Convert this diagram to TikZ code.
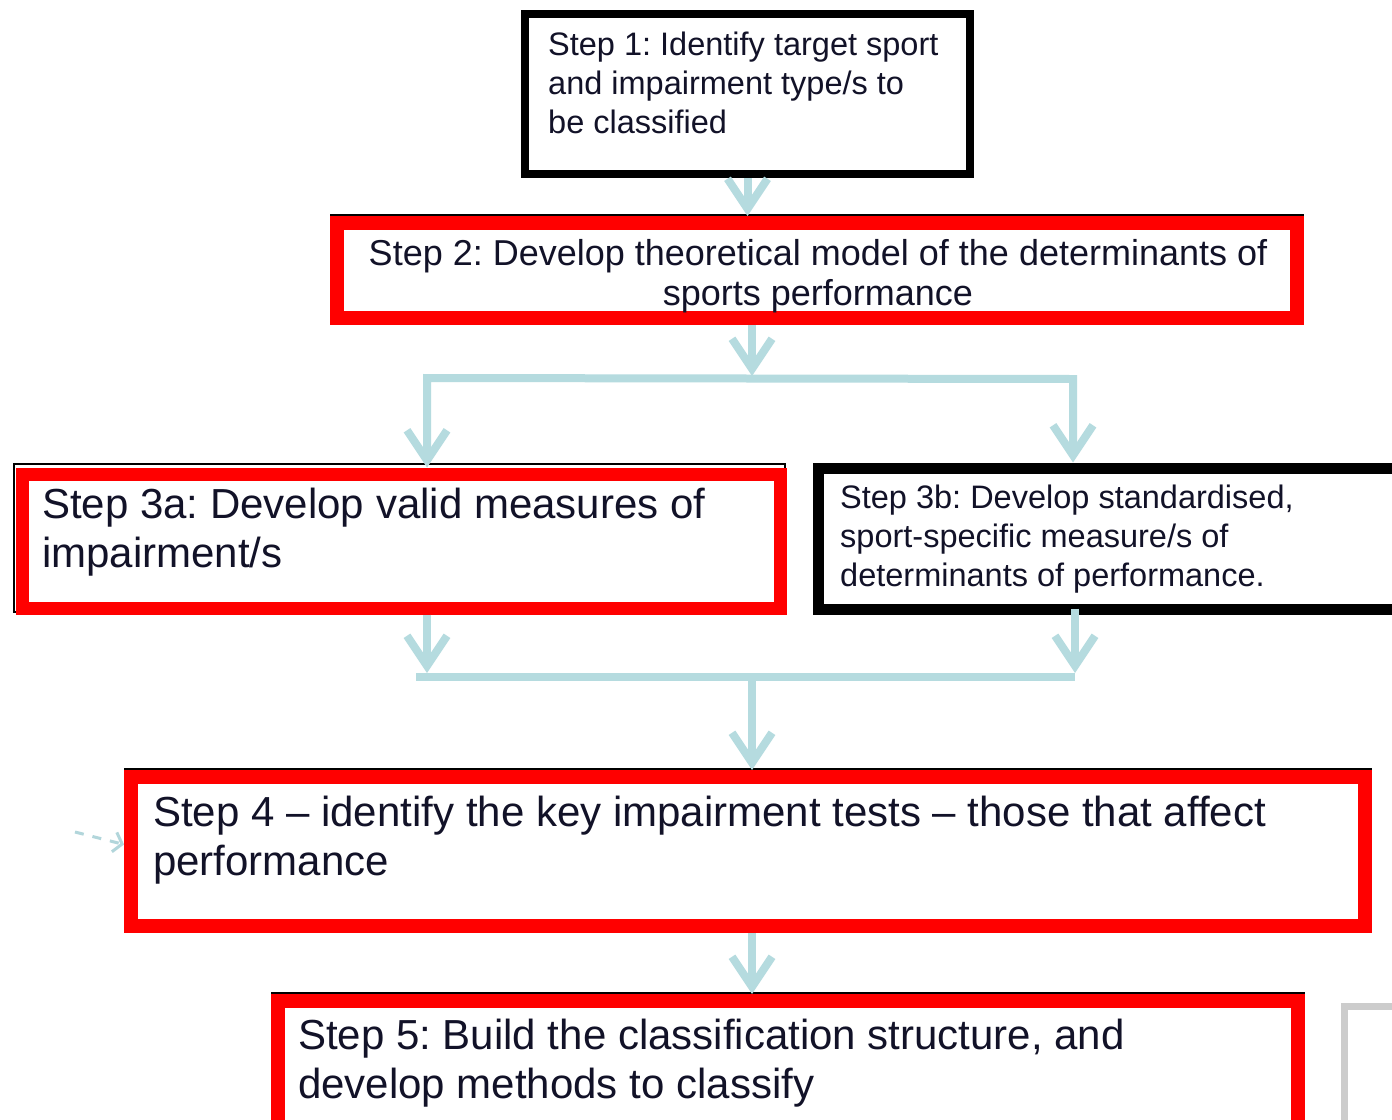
\documentclass[tikz,border=0pt]{standalone}
\usepackage{fontspec}
\setmainfont{Liberation Sans}
\frenchspacing
\usetikzlibrary{arrows.meta}
\definecolor{flowblue}{RGB}{181,219,223}
\definecolor{strayblue}{RGB}{178,214,219}
\definecolor{boxred}{RGB}{255,0,0}
\definecolor{framegray}{RGB}{204,204,204}
\definecolor{inktext}{RGB}{18,18,40}
\begin{document}
\begin{tikzpicture}[x=1pt,y=-1pt,
  blackbox/.style={draw=black, line width=#1, inner sep=0pt},
  redbox/.style={draw=boxred, line width=14pt, inner sep=0pt},
  edgeline/.style={draw=black, line width=2pt, inner sep=0pt},
  flowtip/.tip={Straight Barb[length=30pt,width=40pt]},
  flow/.style={draw=flowblue, line width=8pt, -flowtip},
  flowplain/.style={draw=flowblue, line width=8pt},
  stray/.style={draw=strayblue, line width=3pt, dash pattern=on 9pt off 9pt,
    -{Straight Barb[length=8pt,width=20pt]}},
  label/.style={text=inktext, inner sep=0pt, align=left},
  smalltxt/.style={label, font=\fontsize{32.5}{39}\selectfont},
  midtxt/.style={label, font=\fontsize{36}{40}\selectfont},
  bigtxt/.style={label, font=\fontsize{42}{49}\selectfont}]
\useasboundingbox (0,0) rectangle (1392,1119);
\fill[white] (0,0) rectangle (1392,1119);

% step boxes (the thin black rectangles peek out along the red frames' top edges)
\node[blackbox=8pt, minimum width=445pt, minimum height=160pt] (s1) at (747.5,94) {};

\node[edgeline, minimum width=972pt, minimum height=102pt] (s2e) at (817,266) {};
\node[redbox, minimum width=960pt, minimum height=95pt] (s2) at (817,270.5) {};

\node[edgeline, minimum width=771pt, minimum height=148pt] (s3ae) at (399.5,538) {};
\node[redbox, line width=13pt, minimum width=758pt, minimum height=134pt] (s3a) at (401,541) {};

\node[blackbox=11pt, minimum width=582pt, minimum height=141pt] (s3b) at (1109,538.5) {};

\node[edgeline, minimum width=1246pt, minimum height=157.5pt] (s4e) at (748,847.25) {};
\node[redbox, minimum width=1234pt, minimum height=149pt] (s4) at (748,851.5) {};

\node[edgeline, minimum width=1032pt, minimum height=142.5pt] (s5e) at (788,1063.75) {};
\node[redbox, minimum width=1020pt, minimum height=134pt] (s5) at (788,1068) {};

\node[draw=framegray, line width=7pt, inner sep=0pt, minimum width=80pt, minimum height=140pt] (side) at (1384,1076) {};

% connector junctions
\coordinate (j1) at (752,376);
\coordinate (ja) at (427,378);
\coordinate (jb) at (1073,379);
\coordinate (ma) at (427,673);
\coordinate (mb) at (1075,673);
\coordinate (hl) at (416,677);
\coordinate (hr) at (1075,677);
\coordinate (mc) at (752,677);
\coordinate (strayfrom) at (75,832);

% connectors
\draw[flow] (s1.south) -- (s1.south |- s2.north);
\draw[flow] (s2.south -| j1) -- (j1);
\draw[flowplain, flowtip-flowtip]
  (ja |- s3a.north) -- (ja) -- (jb) -- (jb |- s3b.north);
\draw[flow] (s3a.south -| ma) -- (ma);
\draw[flow] ([yshift=6pt]s3b.south -| mb) -- (mb);
\draw[flowplain] (hl) -- (hr);
\draw[flow] (mc) -- (mc |- s4.north);
\draw[flow] (s4.south -| mc) -- (mc |- s5.north);
\draw[stray] (strayfrom) -- ([yshift=7pt]s4.west);

% step texts (anchored at the baseline of their last line)
\node[smalltxt, anchor=base west] (t1) at (548,133)
  {Step 1: Identify target sport\\and impairment type/s to\\be classified};
\node[midtxt, anchor=base, align=center] (t2) at (818,305)
  {Step 2: Develop theoretical model of the determinants of\\sports performance};
\node[bigtxt, anchor=base west] (t3a) at (42,567)
  {Step 3a: Develop valid measures of\\impairment/s};
\node[smalltxt, anchor=base west] (t3b) at (840,586)
  {Step 3b: Develop standardised,\\sport-specific measure/s of\\determinants of performance.};
\node[bigtxt, anchor=base west] (t4) at (153,875)
  {Step 4 -- identify the key impairment tests -- those that affect\\performance};
\node[bigtxt, anchor=base west] (t5) at (298,1098)
  {Step 5: Build the classification structure, and\\develop methods to classify};
\end{tikzpicture}
\end{document}
